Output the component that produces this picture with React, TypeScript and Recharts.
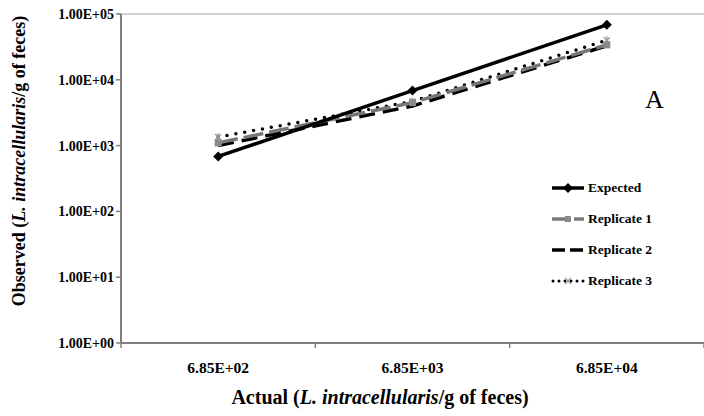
import { LineChart, Line, XAxis, YAxis, ReferenceLine } from 'recharts';

const categories = ['6.85E+02', '6.85E+03', '6.85E+04'];
const expected = [685, 6850, 68500];
const replicate1 = [1100, 4500, 34000];
const replicate2 = [1000, 4000, 33000];
const replicate3 = [1350, 4700, 40000];
const yTicks = [1, 10, 100, 1000, 10000, 100000];

const W = 704;
const H = 416;
const LEFT = 121;
const PLOT_W = W - LEFT;
const BAND = PLOT_W / categories.length;

const data = categories.map((c, i) => ({
  name: c,
  expected: expected[i],
  rep1: replicate1[i],
  rep2: replicate2[i],
  rep3: replicate3[i],
}));

const serif = '"Liberation Serif", "Times New Roman", serif';

const fmt = (v: number) => {
  const e = Math.round(Math.log10(v));
  return `1.00E+${String(e).padStart(2, '0')}`;
};

const Diamond = (p: any) => {
  const { cx, cy } = p;
  if (cx == null) return null;
  return <path d={`M${cx} ${cy - 5}L${cx + 5} ${cy}L${cx} ${cy + 5}L${cx - 5} ${cy}Z`} fill="#000" />;
};
const Square = (p: any) => {
  const { cx, cy } = p;
  if (cx == null) return null;
  return <rect x={cx - 3.5} y={cy - 3.5} width={7} height={7} fill="#8a8a8a" />;
};
const Star = (p: any) => {
  const { cx, cy } = p;
  if (cx == null) return null;
  return (
    <g stroke="#999" strokeWidth={1.3}>
      <line x1={cx - 3} y1={cy - 3} x2={cx + 3} y2={cy + 3} />
      <line x1={cx - 3} y1={cy + 3} x2={cx + 3} y2={cy - 3} />
      <line x1={cx} y1={cy - 4} x2={cx} y2={cy + 4} />
    </g>
  );
};

const XTick = (p: any) => {
  const { x, y, payload, index } = p;
  return (
    <g>
      <line x1={x + BAND / 2} y1={y - 8} x2={x + BAND / 2} y2={y - 3} stroke="#808080" strokeWidth={1.5} />
      {index === 0 && <line x1={x - BAND / 2} y1={y - 8} x2={x - BAND / 2} y2={y - 3} stroke="#808080" strokeWidth={1.5} />}
      <text x={x} y={y + 22} textAnchor="middle" fontFamily={serif} fontWeight="bold" fontSize={15.5} fill="#000">
        {payload.value}
      </text>
    </g>
  );
};

const legendItems = [
  { label: 'Expected', kind: 'exp' },
  { label: 'Replicate 1', kind: 'r1' },
  { label: 'Replicate 2', kind: 'r2' },
  { label: 'Replicate 3', kind: 'r3' },
];

const LegendSample = ({ kind }: { kind: string }) => (
  <svg width={34} height={12} style={{ marginRight: 3 }}>
    {kind === 'exp' && (
      <>
        <line x1={1} y1={6} x2={33} y2={6} stroke="#000" strokeWidth={3.5} />
        <path d="M17 1L22 6L17 11L12 6Z" fill="#000" />
      </>
    )}
    {kind === 'r1' && (
      <>
        <line x1={1} y1={6} x2={33} y2={6} stroke="#7a7a7a" strokeWidth={3.5} strokeDasharray="16 6" />
        <rect x={14} y={3} width={6} height={6} fill="#8a8a8a" />
      </>
    )}
    {kind === 'r2' && <line x1={1} y1={6} x2={33} y2={6} stroke="#000" strokeWidth={3.5} strokeDasharray="13 5" />}
    {kind === 'r3' && (
      <>
        <line x1={2} y1={6} x2={33} y2={6} stroke="#000" strokeWidth={3} strokeDasharray="0 6" strokeLinecap="round" />
        <g stroke="#999" strokeWidth={1.2}>
          <line x1={14} y1={3} x2={20} y2={9} />
          <line x1={14} y1={9} x2={20} y2={3} />
        </g>
      </>
    )}
  </svg>
);

export default function App() {
  return (
    <div style={{ position: 'absolute', left: 0, top: 0, width: W, height: H, background: '#fff' }}>
      <LineChart width={W} height={H} data={data} margin={{ top: 14, right: 0, left: 0, bottom: 0 }}>
        <ReferenceLine y={100000} stroke="#c0c0c0" strokeWidth={1.5} />
        <XAxis
          dataKey="name"
          scale="band"
          height={73}
          axisLine={{ stroke: '#808080', strokeWidth: 2 }}
          tickLine={false}
          tick={<XTick />}
          interval={0}
        />
        <YAxis
          scale="log"
          domain={[1, 100000]}
          ticks={yTicks}
          allowDataOverflow
          width={LEFT}
          tickFormatter={fmt}
          axisLine={{ stroke: '#808080', strokeWidth: 2 }}
          tickLine={{ stroke: '#808080', strokeWidth: 1.5 }}
          tickSize={5}
          tick={{ fontFamily: serif, fontWeight: 'bold', fontSize: 14, fill: '#000' }}
        />
        <Line dataKey="rep3" stroke="#000" strokeWidth={3.5} strokeDasharray="0 9" strokeLinecap="round" dot={<Star />} isAnimationActive={false} />
        <Line dataKey="rep2" stroke="#000" strokeWidth={3.5} strokeDasharray="16 8" dot={false} isAnimationActive={false} />
        <Line dataKey="rep1" stroke="#777" strokeWidth={3.5} strokeDasharray="20 6" dot={<Square />} isAnimationActive={false} />
        <Line dataKey="expected" stroke="#000" strokeWidth={3.5} dot={<Diamond />} isAnimationActive={false} />
      </LineChart>
      <div style={{ position: 'absolute', left: 551, top: 172, fontFamily: serif, fontWeight: 'bold', fontSize: 13.5 }}>
        {legendItems.map((it) => (
          <div key={it.label} style={{ display: 'flex', alignItems: 'center', height: 31 }}>
            <LegendSample kind={it.kind} />
            <span>{it.label}</span>
          </div>
        ))}
      </div>
      <div
        style={{
          position: 'absolute',
          left: 380 - 250,
          width: 500,
          top: 385,
          textAlign: 'center',
          fontFamily: serif,
          fontWeight: 'bold',
          fontSize: 20,
          lineHeight: '24px',
          whiteSpace: 'nowrap',
        }}
      >
        Actual (<i>L. intracellularis</i>/g of feces)
      </div>
      <div
        style={{
          position: 'absolute',
          left: 19 - 200,
          top: 161 - 11,
          width: 400,
          height: 22,
          lineHeight: '22px',
          transform: 'rotate(-90deg)',
          textAlign: 'center',
          fontFamily: serif,
          fontWeight: 'bold',
          fontSize: 18,
          whiteSpace: 'nowrap',
        }}
      >
        Observed (<i>L. intracellularis</i>/g of feces)
      </div>
      <div style={{ position: 'absolute', left: 645, top: 85, fontFamily: serif, fontSize: 26 }}>A</div>
    </div>
  );
}
